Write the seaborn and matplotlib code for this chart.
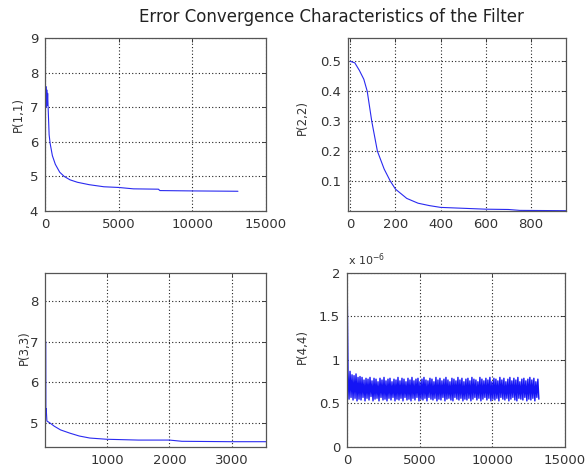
import numpy as np
import pandas as pd
import matplotlib
matplotlib.use("Agg")
import matplotlib.pyplot as plt
import seaborn as sns
from matplotlib.ticker import FuncFormatter

sns.set_style("white")
plt.rcParams['font.family'] = ['DejaVu Sans']

# P(1,1) convergence
x11 = [0, 10, 30, 60, 90, 120, 150, 180, 220, 280, 350, 500, 700, 1000, 1300,
       1700, 2200, 3000, 4000, 5000, 6000, 7700, 7800, 10000, 13100]
p11 = [8.2, 7.6, 7.0, 7.6, 7.0, 7.5, 7.05, 7.4, 6.9, 6.2, 5.95, 5.6, 5.35, 5.12, 5.0,
       4.9, 4.83, 4.76, 4.7, 4.68, 4.64, 4.63, 4.59, 4.58, 4.57]

# P(2,2) convergence
x22 = [0, 20, 40, 60, 75, 95, 120, 150, 177, 200, 250, 300, 350, 400, 500, 600, 700, 750, 955]
p22 = [0.5, 0.495, 0.47, 0.44, 0.40, 0.30, 0.20, 0.14, 0.10, 0.073, 0.042, 0.026, 0.018,
       0.012, 0.009, 0.006, 0.005, 0.002, 0.001]

# P(3,3) convergence
x33 = [12, 14, 20, 30, 80, 150, 250, 400, 550, 720, 990, 1500, 2000, 2200, 3000, 3550]
p33 = [7.0, 5.3, 5.35, 5.05, 5.0, 4.92, 4.83, 4.75, 4.68, 4.63, 4.6, 4.58, 4.58, 4.55, 4.54, 4.54]

# P(4,4) convergence, units of 1e-6
p44 = [2.0,
       0.86, 0.55, 0.87, 0.57, 0.83, 0.54, 0.82, 0.56, 0.84, 0.53, 0.80, 0.55,
       0.81, 0.54, 0.80, 0.57, 0.77, 0.53, 0.79, 0.56, 0.78, 0.54, 0.80, 0.58,
       0.76, 0.53, 0.79, 0.55, 0.78, 0.56, 0.75, 0.53, 0.79, 0.57, 0.77, 0.54,
       0.80, 0.55, 0.76, 0.53, 0.78, 0.56, 0.79, 0.54, 0.75, 0.57, 0.78, 0.53,
       0.77, 0.55, 0.80, 0.54, 0.76, 0.56, 0.79, 0.53, 0.78, 0.57, 0.75, 0.54,
       0.79, 0.55, 0.77, 0.53, 0.80, 0.56, 0.76, 0.54, 0.78, 0.57, 0.79, 0.53,
       0.75, 0.55, 0.78, 0.54, 0.80, 0.56, 0.77, 0.53, 0.76, 0.57, 0.79, 0.55,
       0.78, 0.54, 0.75, 0.56, 0.80, 0.53, 0.77, 0.55, 0.79, 0.54, 0.76, 0.57,
       0.78, 0.53, 0.80, 0.55, 0.77, 0.56, 0.75, 0.54, 0.79, 0.53, 0.78, 0.57,
       0.76, 0.55, 0.80, 0.54, 0.77, 0.56, 0.79, 0.53, 0.75, 0.55, 0.78, 0.54,
       0.79, 0.56, 0.76, 0.53, 0.80, 0.55, 0.78, 0.57, 0.77, 0.54, 0.75, 0.56,
       0.80, 0.53, 0.78, 0.55, 0.76, 0.57, 0.79, 0.54, 0.77, 0.56, 0.80, 0.53,
       0.75, 0.55, 0.79, 0.54, 0.78, 0.56, 0.76, 0.53, 0.80, 0.57, 0.77, 0.55,
       0.79, 0.54, 0.75, 0.56, 0.78, 0.53, 0.80, 0.55, 0.76, 0.57, 0.79, 0.54,
       0.77, 0.53, 0.80, 0.56, 0.75, 0.55, 0.78, 0.54, 0.79, 0.57, 0.76, 0.53,
       0.78, 0.55, 0.80, 0.54, 0.77, 0.56, 0.79, 0.53, 0.75, 0.57, 0.78, 0.55]
x44 = np.arange(len(p44)) * 13200 / (len(p44) - 1)

line_color = '#2a2af0'
fig = plt.figure(figsize=(5.86, 4.72), dpi=100)

ax1 = fig.add_axes([0.0768, 0.553, 0.377, 0.3665])
ax2 = fig.add_axes([0.5939, 0.553, 0.372, 0.3665])
ax3 = fig.add_axes([0.0768, 0.053, 0.377, 0.3686])
ax4 = fig.add_axes([0.5922, 0.053, 0.372, 0.3686])

sns.lineplot(x=x11, y=p11, ax=ax1, color=line_color, lw=0.8, estimator=None, sort=False)
sns.lineplot(x=x22, y=p22, ax=ax2, color=line_color, lw=0.8, estimator=None, sort=False)
sns.lineplot(x=x33, y=p33, ax=ax3, color=line_color, lw=0.8, estimator=None, sort=False)
sns.lineplot(x=x44, y=p44, ax=ax4, color='#1414f5', lw=1.0, estimator=None, sort=False)

ax1.set_xlim(0, 15000); ax1.set_ylim(4, 9)
ax1.set_xticks([0, 5000, 10000, 15000]); ax1.set_yticks([4, 5, 6, 7, 8, 9])
ax2.set_xlim(-10, 955); ax2.set_ylim(0, 0.578)
ax2.set_xticks([0, 200, 400, 600, 800]); ax2.set_yticks([0.1, 0.2, 0.3, 0.4, 0.5])
ax3.set_xlim(0, 3550); ax3.set_ylim(4.41, 8.69)
ax3.set_xticks([1000, 2000, 3000]); ax3.set_yticks([5, 6, 7, 8])
ax4.set_xlim(0, 15000); ax4.set_ylim(0, 2)
ax4.set_xticks([0, 5000, 10000, 15000]); ax4.set_yticks([0, 0.5, 1, 1.5, 2])

labels = ['P(1,1)', 'P(2,2)', 'P(3,3)', 'P(4,4)']
label_x = [-0.12, -0.21, -0.095, -0.206]
label_y = [0.56, 0.54, 0.57, 0.575]
fmt = FuncFormatter(lambda v, p: '%g' % v)
for ax, lab, lx, ly in zip([ax1, ax2, ax3, ax4], labels, label_x, label_y):
    ax.set_xlabel('')
    ax.set_ylabel(lab, fontsize=8.5, color='#333333', va='center')
    ax.yaxis.set_label_coords(lx, ly)
    ax.grid(True, linestyle=(0, (1, 2)), color='#222222', linewidth=0.8)
    ax.tick_params(direction='in', top=True, right=True, length=3, width=0.6,
                   labelsize=9.5, labelcolor='#333333', pad=5)
    ax.xaxis.set_major_formatter(fmt)
    ax.yaxis.set_major_formatter(fmt)
    for s in ax.spines.values():
        s.set_color('#555555')
        s.set_linewidth(0.9)

ax4.text(0.005, 1.03, r'x 10$^{-6}$', transform=ax4.transAxes, fontsize=8,
         color='#333333', ha='left', va='bottom')

fig.text(0.565, 0.964, 'Error Convergence Characteristics of the Filter',
         ha='center', va='center', fontsize=12, color='#222222')

fig.savefig('out.png', dpi=100)
